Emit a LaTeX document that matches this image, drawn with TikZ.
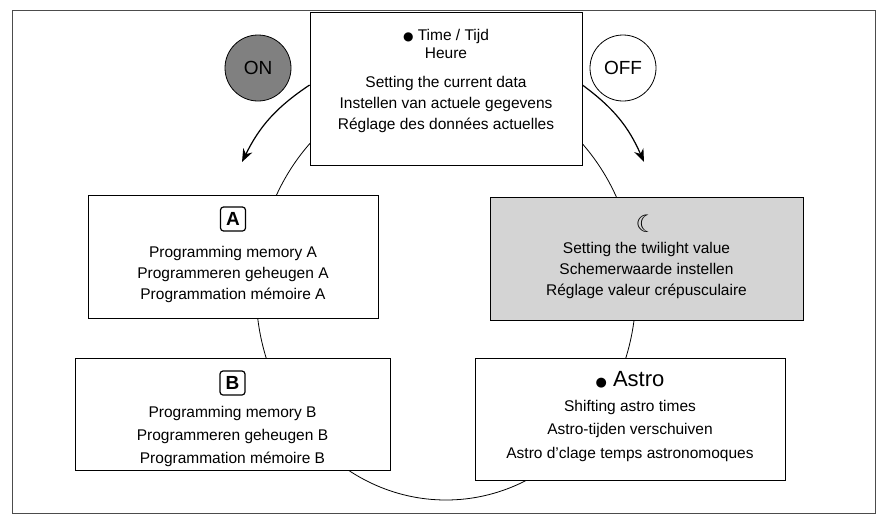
\documentclass[tikz,border=0pt]{standalone}
\usepackage{fontspec}
\setmainfont{Liberation Sans}
\newfontfamily\symfont{DejaVu Sans}
\usetikzlibrary{arrows.meta}
\usetikzlibrary{positioning}

\tikzset{
  stepbox/.style={draw, thick, fill=white, align=center,
    minimum width=#1, minimum height=118pt, inner sep=4pt},
  steptext/.style={align=center, inner sep=0pt, font=\fontsize{15.5}{21}\selectfont},
  letterbox/.style={draw, very thick, rounded corners=3pt, fill=white, font=\fontsize{19}{19}\bfseries\selectfont,
    minimum width=25pt, minimum height=24pt, inner sep=1pt},
  switch/.style={circle, draw, thick, minimum size=66pt, font=\fontsize{19}{19}\selectfont},
  flow/.style={-{Stealth[length=13pt,width=10pt]}, very thick}
}

\begin{document}
\begin{tikzpicture}[x=1pt, y=-1pt]
\useasboundingbox (0,0) rectangle (887,525);
\draw[thick, black!70] (12,10) rectangle (875,513);

% cycle
\draw[thick] (446,290) ellipse [x radius=190, y radius=210];

% top step
\node[stepbox=272pt, minimum height=153pt] (time) at (446,89) {};
\node[steptext, font=\fontsize{15.5}{18}\selectfont] (timetitle) at (446,44) {{\symfont\fontsize{12}{12}\selectfont ●} Time / Tijd\\Heure};
\node[steptext] (timetext) at (446,104)
  {Setting the current data\\Instellen van actuele gegevens\\Réglage des données actuelles};

\node[switch, fill=black!50] (on) at (258,68) {ON};
\node[switch, fill=white] (off) at (623,68) {OFF};
\coordinate (onend) at (242,162);
\coordinate (offend) at (644,162);
\draw[flow] (time.west |- 0,85) to[bend right=15] (onend);
\draw[flow] (time.east |- 0,85) to[bend left=15] (offend);

% memory A
\node[stepbox=290pt, minimum height=123pt] (memA) at (233,256.5) {};
\node[letterbox] (letA) at (233,219) {A};
\node[steptext, below=14pt of letA] (textA)
  {Programming memory A\\Programmeren geheugen A\\Programmation mémoire A};

% twilight
\node[stepbox=313pt, minimum height=123pt, fill=black!17] (twilight) at (646.5,258.5) {};
\node (moon) at (646.5,224) {\symfont\bfseries\fontsize{24}{24}\selectfont ☾};
\node[steptext, below=6pt of moon] (texttw)
  {Setting the twilight value\\Schemerwaarde instellen\\Réglage valeur crépusculaire};

% memory B
\node[stepbox=315pt, minimum height=112pt] (memB) at (232.5,414) {};
\node[letterbox] (letB) at (232.5,383) {B};
\node[steptext, font=\fontsize{15.5}{23}\selectfont, below=10pt of letB] (textB)
  {Programming memory B\\Programmeren geheugen B\\Programmation mémoire B};

% astro
\node[stepbox=310pt, minimum height=122pt] (astro) at (630,419) {};
\node (astrotitle) at (630,380) {\fontsize{22}{22}\selectfont{\symfont\fontsize{13}{13}\selectfont ●} Astro};
\node[steptext, font=\fontsize{15.5}{23.5}\selectfont, below=8pt of astrotitle] (textastro)
  {Shifting astro times\\Astro-tijden verschuiven\\Astro d'clage temps astronomoques};
\end{tikzpicture}
\end{document}
